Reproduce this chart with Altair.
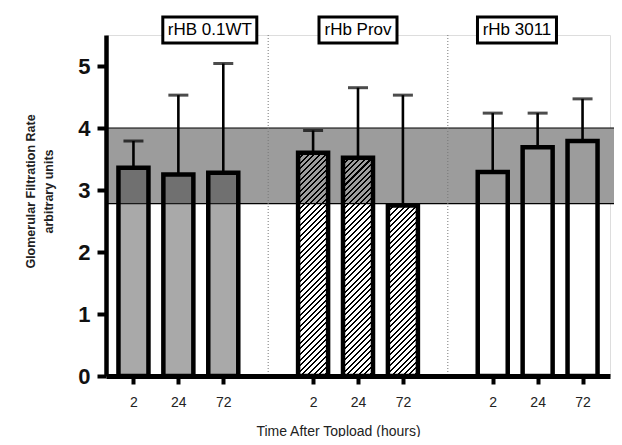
import altair as alt
import pandas as pd

# ---- data ----
groups = ["rHB 0.1WT", "rHb Prov", "rHb 3011"]
times = ["2", "24", "72"]
means = [[3.36, 3.25, 3.28], [3.60, 3.52, 2.75], [3.29, 3.69, 3.79]]
uppers = [[3.79, 4.53, 5.04], [3.96, 4.65, 4.53], [4.24, 4.24, 4.47]]
band_low = [2.78]
band_high = [4.0]
label_shift = [0.7, 0.0, -0.46]
box_width = [94, 78, 79]

# ---- layout / style ----
W, H = 504, 341
YMAX = 5.5
BAR_W = 30
FONT = "Liberation Sans"

rows = []
for gi, g in enumerate(groups):
    for ti, t in enumerate(times):
        rows.append({"group": g, "gi": gi, "time": t, "slot": gi * 4 + ti,
                     "mean": means[gi][ti], "upper": uppers[gi][ti]})
df = pd.DataFrame(rows)

lab = pd.DataFrame({"group": groups,
                    "xc": [gi * 4 + 1 + label_shift[gi] for gi in range(len(groups))],
                    "w": box_width,
                    "y1": [5.37] * 3, "y2": [5.79] * 3, "ym": [5.58] * 3})
sep = pd.DataFrame({"x": [gi * 4 - 1 for gi in range(1, len(groups))]})
band = pd.DataFrame({"lo": band_low, "hi": band_high})

xscale = alt.Scale(domain=[-0.5, 10.5], nice=False, zero=False)
yscale = alt.Scale(domain=[0, YMAX], nice=False)

label_expr = "['" + "','".join(times) + "',''][datum.value % 4]"
xenc = alt.X("slot:Q", scale=xscale, axis=alt.Axis(
    values=[r["slot"] for r in rows], labelExpr=label_expr, grid=False,
    title="Time After Topload (hours)", titleFont=FONT, titleFontSize=14,
    titleFontWeight="normal", titleX=232, titleY=55, titleBaseline="middle",
    titleColor="#222", labelFont=FONT, labelFontSize=14, labelColor="#222",
    labelPadding=11, tickSize=8, tickWidth=4, tickColor="black",
    domainWidth=5, domainColor="black", zindex=1))
yenc = alt.Y("mean:Q", scale=yscale, axis=alt.Axis(
    values=[0, 1, 2, 3, 4, 5], format="d", grid=False,
    title=["Glomerular Filtration Rate", "arbitrary units"], titleFont=FONT,
    titleFontSize=12.5, titleFontWeight="bold", titleColor="#222",
    titleX=-76, titleY=156, titleBaseline="middle", titleAlign="center",
    titleLineHeight=18,
    labelFont=FONT, labelFontSize=22, labelFontWeight="bold", labelColor="#111",
    labelPadding=7, tickSize=9, tickWidth=4, tickColor="black",
    domainWidth=4.5, domainColor="black", zindex=1))

band_layer = alt.Chart(band).mark_rect(fill="#9c9c9c", stroke="black", strokeWidth=1.2).encode(
    x=alt.value(0), x2=alt.value(W + 7),
    y=alt.Y("lo:Q", scale=yscale), y2="hi:Q")

sep_layer = alt.Chart(sep).mark_rule(color="#777", strokeWidth=1, strokeDash=[1, 2]).encode(
    x=alt.X("x:Q", scale=xscale), y=alt.value(0), y2=alt.value(H))

base = alt.Chart(df)
bar_kw = dict(size=BAR_W, stroke="black", strokeWidth=4.5)

g0 = base.transform_filter("datum.gi == 0").mark_bar(
    fill="#373737", fillOpacity=0.43, **bar_kw).encode(x=xenc, y=yenc)
g2 = base.transform_filter("datum.gi == 2").mark_bar(
    fill="transparent", **bar_kw).encode(x=xenc, y=yenc)


def hatch(v, period=5.6, frac=0.36):
    h = v * H / YMAX
    w = BAR_W
    dx = w / h
    k = (w + h) / (h * (1 + dx * dx))
    n = max(1, round((w + h) / period))
    stops = []
    for i in range(n):
        a, b, c = i / n, (i + frac) / n, (i + 1) / n
        stops += [alt.GradientStop(offset=a, color="black"),
                  alt.GradientStop(offset=b, color="black"),
                  alt.GradientStop(offset=b, color="rgba(0,0,0,0)"),
                  alt.GradientStop(offset=c, color="rgba(0,0,0,0)")]
    return alt.LinearGradient(gradient="linear", stops=stops, x1=0, y1=0, x2=dx * k, y2=k)


g1_layers = []
for ti in range(len(times)):
    v = means[1][ti]
    g1_layers.append(
        base.transform_filter(f"datum.gi == 1 && datum.slot == {4 + ti}").mark_bar(
            fill=hatch(v), **bar_kw).encode(x=xenc, y=yenc))

stems = base.mark_rule(color="black", strokeWidth=2.6).encode(
    x=alt.X("slot:Q", scale=xscale), y=alt.Y("mean:Q", scale=yscale), y2="upper:Q")
caps = base.mark_tick(color="black", orient="horizontal", size=20, thickness=3).encode(
    x=alt.X("slot:Q", scale=xscale), y=alt.Y("upper:Q", scale=yscale))

boxes = alt.Chart(lab).mark_bar(fill="white", stroke="black", strokeWidth=3).encode(
    x=alt.X("xc:Q", scale=xscale), size=alt.Size("w:Q", scale=None, legend=None),
    y=alt.Y("y1:Q", scale=yscale), y2="y2:Q")
texts = alt.Chart(lab).mark_text(font=FONT, fontSize=17, color="black", baseline="middle").encode(
    x=alt.X("xc:Q", scale=xscale), y=alt.Y("ym:Q", scale=yscale), text="group:N")

chart = alt.layer(band_layer, sep_layer, g0, *g1_layers, g2, stems, caps, boxes, texts).properties(
    width=W, height=H,
    autosize=alt.AutoSizeParams(type="none"),
    padding={"left": 98, "top": 27, "right": 4, "bottom": 61},
).configure_view(stroke=None).configure(background="white")

chart.save("out.html", embed_options={"renderer": "svg", "actions": False})
